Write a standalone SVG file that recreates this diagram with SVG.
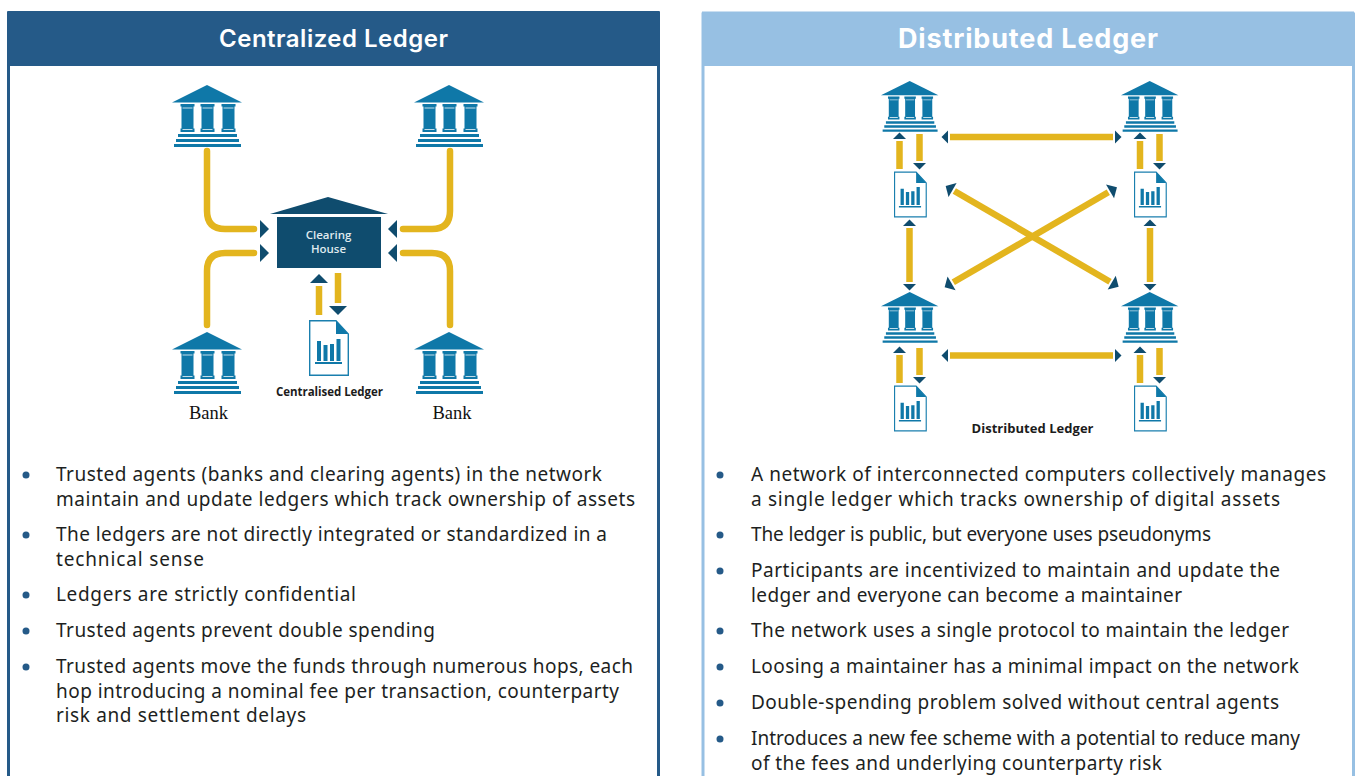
<svg xmlns="http://www.w3.org/2000/svg" width="1359" height="776" viewBox="0 0 1359 776">
<style>
.bk{fill:#0f78a8}
.ln{fill:#fff;fill-opacity:.75}
.body{font-family:"Noto Sans","Liberation Sans",sans-serif;font-size:19px;fill:#1d1f22}
.dot{fill:#255a88}
.conn{fill:none;stroke:#e3b51e;stroke-width:6.5}
.ttl{font-family:"Inter","Liberation Sans",sans-serif;fill:#fff;text-anchor:middle}
.cap{font-family:"Open Sans","Liberation Sans",sans-serif;font-weight:700;fill:#1c1c1c;text-anchor:middle}
.bank{font-family:"Liberation Serif",serif;font-size:18.500px;fill:#111;text-anchor:middle}
.ch{font-family:"Open Sans","Liberation Sans",sans-serif;font-size:11.500px;font-weight:600;fill:#dfe9ee;text-anchor:middle}
</style>
<defs>
<symbol id="bankIcon" overflow="visible">
<path class="bk" d="M35,0L70,17.500H0Z"/>
<path class="bk" d="M8.500,19h14v2.500h-1v22h1v3.500h-14v-3.500h1v-22h-1zM28.500,19h14v2.500h-1v22h1v3.500h-14v-3.500h1v-22h-1zM49.500,19h14v2.500h-1v22h1v3.500h-14v-3.500h1v-22h-1z"/>
<path class="bk" d="M6,49h59v3H6zM4,54h63v3H4zM2,59h67v3H2z"/>
<path class="ln" d="M10.500,22.500h10v1h-10zM30.500,22.500h10v1h-10zM51.500,22.500h10v1h-10zM10.500,44h10v1h-10zM30.500,44h10v1h-10zM51.500,44h10v1h-10z"/>
</symbol>
<symbol id="docIcon" overflow="visible">
<path d="M0.700,0.700H27L39.300,14V55.300H0.700Z" fill="#fff" stroke="#1a7fae" stroke-width="1.400"/>
<path class="bk" d="M27,0.700L39.300,14H27Z"/>
<path class="bk" d="M8,21h4v20h-4zM14.500,25h4v16h-4zM21,24h4v17h-4zM27.500,19h4v22h-4zM6,42h27v2H6z"/>
</symbol>
<marker id="hA" markerUnits="userSpaceOnUse" markerWidth="16" markerHeight="18" refX="0" refY="9" orient="auto-start-reverse" overflow="visible"><path d="M3,0L12,9L3,18Z" fill="#0f4c6e"/></marker>
<marker id="hC" markerUnits="userSpaceOnUse" markerWidth="16" markerHeight="18" refX="0" refY="9" orient="auto-start-reverse" overflow="visible"><path d="M6,0L15,9L6,18Z" fill="#0f4c6e"/></marker>
<marker id="hB" markerUnits="userSpaceOnUse" markerWidth="10" markerHeight="14" refX="0" refY="7" orient="auto-start-reverse" overflow="visible"><path d="M2,0.500L8.500,7L2,13.500Z" fill="#0f4c6e"/></marker>
<marker id="hX" markerUnits="userSpaceOnUse" markerWidth="12" markerHeight="16" refX="0" refY="8" orient="auto-start-reverse" overflow="visible"><path d="M2,0L10,8L2,16Z" fill="#0f4c6e"/></marker>
</defs>

<g id="panel-centralized">
<rect x="8.500" y="14" width="650" height="770" fill="#fff" stroke="#255a88" stroke-width="3"/>
<rect x="7" y="11" width="653" height="55" rx="1" fill="#255a88"/>
<text class="ttl" x="333.500" y="47" font-size="24" font-weight="600" textLength="229">Centralized Ledger</text>
</g>
<g id="panel-distributed">
<rect x="703" y="14" width="650.500" height="770" fill="#fff" stroke="#97c0e3" stroke-width="3"/>
<rect x="702" y="11.500" width="652" height="54.500" fill="#97c0e3"/>
<text class="ttl" x="1028" y="48" font-size="27" font-weight="700" textLength="260">Distributed Ledger</text>
</g>

<g id="connectors">
<g class="conn">
<path stroke-linecap="round" marker-end="url(#hC)" d="M207,151V211Q207,229 225,229H254"/>
<path stroke-linecap="round" marker-end="url(#hC)" d="M207,325V271Q207,253 225,253H254"/>
<path stroke-linecap="round" marker-end="url(#hC)" d="M450,151V211Q450,229 432,229H403"/>
<path stroke-linecap="round" marker-end="url(#hC)" d="M450,325V271Q450,253 432,253H403"/>
<path marker-end="url(#hA)" d="M319,315V286"/>
<path marker-end="url(#hA)" d="M338,273V303"/>
<path marker-start="url(#hB)" marker-end="url(#hB)" d="M950,137H1113"/>
<path marker-start="url(#hB)" marker-end="url(#hB)" d="M950,355.500H1113"/>
<path marker-start="url(#hB)" marker-end="url(#hB)" d="M909.500,228V282"/>
<path marker-start="url(#hB)" marker-end="url(#hB)" d="M1150,228V282"/>
<path marker-start="url(#hX)" marker-end="url(#hX)" d="M954.300,191L1110,281.700"/>
<path marker-start="url(#hX)" marker-end="url(#hX)" d="M1108.300,192.300L953.300,282.300"/>
<path marker-end="url(#hB)" d="M899.500,169V141"/><path marker-end="url(#hB)" d="M919.500,134V161"/>
<path marker-end="url(#hB)" d="M1140,169V141"/><path marker-end="url(#hB)" d="M1159.500,134V161"/>
<path marker-end="url(#hB)" d="M899.500,383V355"/><path marker-end="url(#hB)" d="M919.500,348V375"/>
<path marker-end="url(#hB)" d="M1140,383V355"/><path marker-end="url(#hB)" d="M1159.500,348V375"/>
</g>
</g>

<g id="c-bank-tl"><use href="#bankIcon" x="172" y="85"/></g>
<g id="c-bank-tr"><use href="#bankIcon" x="414" y="85"/></g>
<g id="c-bank-bl"><use href="#bankIcon" x="172" y="332"/><text class="bank" x="208.500" y="419">Bank</text></g>
<g id="c-bank-br"><use href="#bankIcon" x="414" y="332"/><text class="bank" x="452" y="419">Bank</text></g>
<g id="clearing-house">
<path d="M270,214L328,197L388,214Z" fill="#0f4c6e"/>
<rect x="277" y="217" width="104" height="51" fill="#0f4c6e"/>
<text class="ch" x="328.500" y="239">Clearing</text>
<text class="ch" x="328.500" y="253">House</text>
</g>
<g id="c-ledger"><use href="#docIcon" x="309" y="320"/>
<text class="cap" x="329.500" y="396" font-size="11.500" textLength="107">Centralised Ledger</text></g>

<g id="d-bank-tl"><use href="#bankIcon" transform="translate(881,81) scale(.82)"/></g>
<g id="d-bank-tr"><use href="#bankIcon" transform="translate(1121,81) scale(.82)"/></g>
<g id="d-bank-bl"><use href="#bankIcon" transform="translate(881,292) scale(.82)"/></g>
<g id="d-bank-br"><use href="#bankIcon" transform="translate(1121,292) scale(.82)"/></g>
<g id="d-doc-1"><use href="#docIcon" transform="translate(894,171.500) scale(.82)"/></g>
<g id="d-doc-2"><use href="#docIcon" transform="translate(1134,171.500) scale(.82)"/></g>
<g id="d-doc-3"><use href="#docIcon" transform="translate(894,385.500) scale(.82)"/></g>
<g id="d-doc-4"><use href="#docIcon" transform="translate(1134,385.500) scale(.82)"/></g>
<text class="cap" x="1032.500" y="432.500" font-size="13" textLength="122">Distributed Ledger</text>

<g id="list-centralized">
<g class="dot"><circle cx="26" cy="475" r="3.500"/><circle cx="26" cy="535" r="3.500"/><circle cx="26" cy="595" r="3.500"/><circle cx="26" cy="631" r="3.500"/><circle cx="26" cy="667" r="3.500"/></g>
<text class="body" x="56" y="481" textLength="546">Trusted agents (banks and clearing agents) in the network</text>
<text class="body" x="56" y="506" textLength="579">maintain and update ledgers which track ownership of assets</text>
<text class="body" x="56" y="541" textLength="551">The ledgers are not directly integrated or standardized in a</text>
<text class="body" x="56" y="566" textLength="148">technical sense</text>
<text class="body" x="56" y="601" textLength="300">Ledgers are strictly confidential</text>
<text class="body" x="56" y="637" textLength="379">Trusted agents prevent double spending</text>
<text class="body" x="56" y="673" textLength="577">Trusted agents move the funds through numerous hops, each</text>
<text class="body" x="56" y="698" textLength="563">hop introducing a nominal fee per transaction, counterparty</text>
<text class="body" x="56" y="722" textLength="250">risk and settlement delays</text>
</g>
<g id="list-distributed">
<g class="dot"><circle cx="720" cy="475" r="3.500"/><circle cx="720" cy="535" r="3.500"/><circle cx="720" cy="571" r="3.500"/><circle cx="720" cy="631" r="3.500"/><circle cx="720" cy="667" r="3.500"/><circle cx="720" cy="703" r="3.500"/><circle cx="720" cy="739" r="3.500"/></g>
<text class="body" x="751" y="481" textLength="575">A network of interconnected computers collectively manages</text>
<text class="body" x="751" y="506" textLength="529">a single ledger which tracks ownership of digital assets</text>
<text class="body" x="751" y="541" textLength="460">The ledger is public, but everyone uses pseudonyms</text>
<text class="body" x="751" y="577" textLength="529">Participants are incentivized to maintain and update the</text>
<text class="body" x="751" y="602" textLength="431">ledger and everyone can become a maintainer</text>
<text class="body" x="751" y="637" textLength="538">The network uses a single protocol to maintain the ledger</text>
<text class="body" x="751" y="673" textLength="548">Loosing a maintainer has a minimal impact on the network</text>
<text class="body" x="751" y="709" textLength="528">Double-spending problem solved without central agents</text>
<text class="body" x="751" y="745" textLength="549">Introduces a new fee scheme with a potential to reduce many</text>
<text class="body" x="751" y="770" textLength="411">of the fees and underlying counterparty risk</text>
</g>
</svg>
